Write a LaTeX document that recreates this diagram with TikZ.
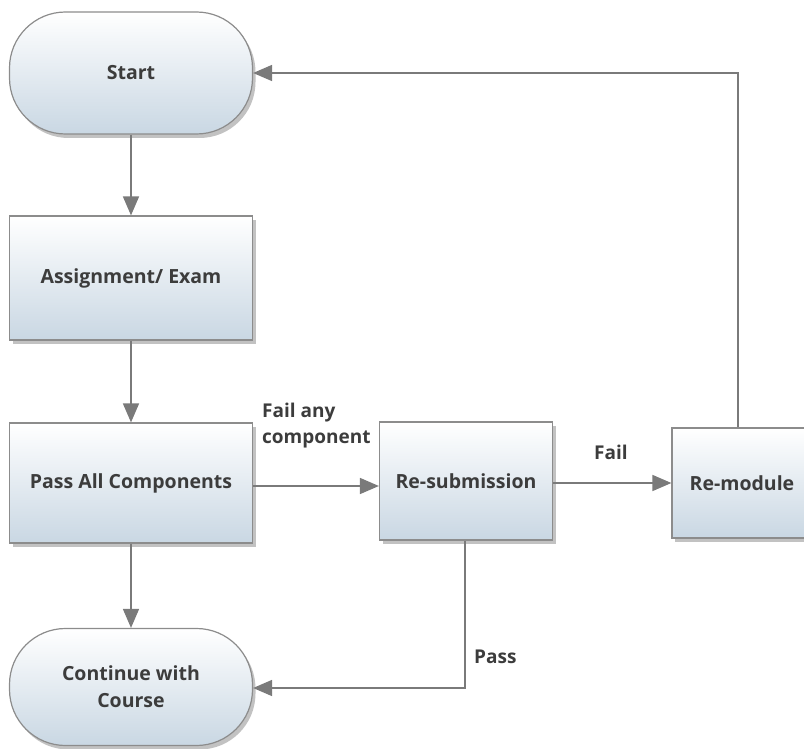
\documentclass[tikz,border=0pt]{standalone}
\usepackage{fontspec}
\setmainfont{Open Sans}
\usetikzlibrary{arrows.meta,shadows}
\definecolor{boxline}{HTML}{8C8C8C}
\definecolor{boxbot}{HTML}{C9D7E3}
\definecolor{txt}{HTML}{3C3C3C}
\definecolor{conn}{HTML}{7A7A7A}
\begin{document}
\begin{tikzpicture}[x=1pt,y=-1pt,
  base/.style={draw=boxline,line width=1.2pt,top color=white,bottom color=boxbot,
     font=\fontsize{19.5}{27}\selectfont\bfseries,text=txt,align=center,inner sep=0pt,
     drop shadow={shadow xshift=3pt,shadow yshift=-4pt,fill=black!40,opacity=0.6}},
  term/.style={base,rounded corners=56pt,minimum width=243pt,minimum height=122pt},
  proc/.style={base,minimum width=243pt,minimum height=124pt},
  conn/.style={draw=conn,line width=1.5pt,-{Triangle[length=19pt,width=16pt]}},
  lbl/.style={font=\fontsize{19}{26}\selectfont\bfseries,text=txt,align=left,inner sep=0pt}]
\useasboundingbox (0,0) rectangle (804,749);
\node[term] (start) at (131,73) {Start};
\node[proc] (assign) at (131,278) {Assignment/ Exam};
\node[proc,minimum height=120pt] (pass) at (131,483) {Pass All Components};
\node[proc,minimum width=173pt,minimum height=118pt] (resub) at (466,481) {Re-submission};
\node[proc,minimum width=140pt,minimum height=110pt] (remod) at (742,483) {Re-module};
\node[term,minimum height=117pt] (cont) at (131,687) {Continue with\\Course};
\coordinate (c1) at (738,73);
\coordinate (c2) at (465,688);
\draw[conn] (start) -- (assign);
\draw[conn] (assign) -- (pass);
\draw[conn] (pass) -- (cont);
\draw[conn] (pass.east |- 0,486) -- (resub.west |- 0,486);
\draw[conn] (resub.east |- 0,483) -- (remod.west |- 0,483);
\draw[conn] (remod.north -| c1) -- (c1) -- (start.east |- c1);
\draw[conn] (resub.south -| c2) -- (c2) -- (cont.east |- c2);
\node[lbl,anchor=north west] (l1) at (262,403) {Fail any\\component};
\node[lbl,anchor=west] (l2) at (594,452) {Fail};
\node[lbl,anchor=west] (l3) at (474,657) {Pass};
\end{tikzpicture}
\end{document}
